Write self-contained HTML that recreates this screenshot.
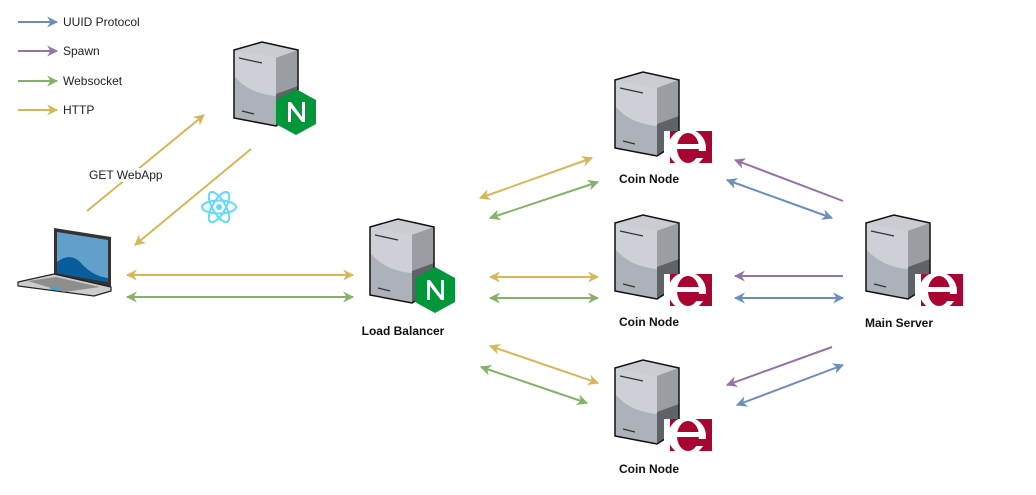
<!DOCTYPE html>
<html><head><meta charset="utf-8"><style>
html,body{margin:0;padding:0;background:#fff;}
svg{display:block;font-family:"Liberation Sans",sans-serif;}
</style></head><body>
<svg width="1036" height="495" viewBox="0 0 1036 495" xmlns="http://www.w3.org/2000/svg">
<defs>
<marker id="ab" viewBox="0 0 10 10" refX="9" refY="5" markerWidth="11" markerHeight="11" orient="auto-start-reverse" markerUnits="userSpaceOnUse"><path d="M0,0 L10,5 L0,10 L3,5 Z" fill="#6c8ebf"/></marker>
<marker id="ap" viewBox="0 0 10 10" refX="9" refY="5" markerWidth="11" markerHeight="11" orient="auto-start-reverse" markerUnits="userSpaceOnUse"><path d="M0,0 L10,5 L0,10 L3,5 Z" fill="#9673a6"/></marker>
<marker id="ag" viewBox="0 0 10 10" refX="9" refY="5" markerWidth="11" markerHeight="11" orient="auto-start-reverse" markerUnits="userSpaceOnUse"><path d="M0,0 L10,5 L0,10 L3,5 Z" fill="#82b366"/></marker>
<marker id="ay" viewBox="0 0 10 10" refX="9" refY="5" markerWidth="11" markerHeight="11" orient="auto-start-reverse" markerUnits="userSpaceOnUse"><path d="M0,0 L10,5 L0,10 L3,5 Z" fill="#d6b656"/></marker>
<clipPath id="ec"><rect x="0" y="0" width="48" height="32"/></clipPath>
<g id="srv">
<path d="M0,8 L28,0 L64,8 L42,16 Z" fill="#c9ccd1"/>
<path d="M0,8 L42,16 L42,84 L0,76 Z" fill="#adb2ba"/>
<path d="M0,8 L42,16 L42,54 Q18,52 4,38 L0,34 Z" fill="#cdd0d6"/>
<path d="M42,16 L64,8 L64,70 L42,84 Z" fill="#5f6368"/>
<path d="M42,16 L64,8 L64,44 L42,52 Z" fill="#9a9ea2"/>
<path d="M0,8 L28,0 L64,8 L64,70 L42,84 L0,76 Z" fill="none" stroke="#111" stroke-width="1.5"/>
<path d="M5,16 L28,21 M8,69 L20,72" stroke="#333" stroke-width="1.3"/>
</g>
<g id="ngx">
<path d="M20,0 L40,11 L40,35 L20,46 L0,35 L0,11 Z" fill="#009639"/>
<path d="M12,33 L12,13 L15,13 L26,28 L26,13 L29,13 L29,33 L26,33 L15,19 L15,33 Z" fill="#fff"/>
</g>
<g id="erl">
<rect x="0" y="0" width="48" height="32" fill="#a90533"/>
<g clip-path="url(#ec)">
<ellipse cx="23" cy="17" rx="19" ry="19" fill="#fff"/>
<ellipse cx="24" cy="17" rx="11" ry="15" fill="#a90533"/>
<rect x="10" y="13" width="30" height="5" fill="#fff"/>
<rect x="28" y="20" width="20" height="7" fill="#a90533"/>
<rect x="0" y="0" width="6" height="32" fill="#fff"/>
</g>
</g>
</defs>

<!-- legend -->
<g font-size="12" fill="#222">
<line x1="18" y1="22" x2="57" y2="22" stroke="#6c8ebf" stroke-width="2" marker-end="url(#ab)"/><text x="63" y="26">UUID Protocol</text>
<line x1="18" y1="51" x2="57" y2="51" stroke="#9673a6" stroke-width="2" marker-end="url(#ap)"/><text x="63" y="55">Spawn</text>
<line x1="18" y1="81" x2="57" y2="81" stroke="#82b366" stroke-width="2" marker-end="url(#ag)"/><text x="63" y="85">Websocket</text>
<line x1="18" y1="110" x2="57" y2="110" stroke="#d6b656" stroke-width="2" marker-end="url(#ay)"/><text x="63" y="114">HTTP</text>
</g>

<!-- servers -->
<use href="#srv" x="234" y="42"/><use href="#ngx" x="276" y="89"/>
<use href="#srv" x="370" y="219"/><use href="#ngx" x="415" y="267"/>
<use href="#srv" x="615" y="72"/><use href="#erl" x="664" y="131"/>
<use href="#srv" x="615" y="215"/><use href="#erl" x="664" y="274"/>
<use href="#srv" x="615" y="360"/><use href="#erl" x="664" y="419"/>
<use href="#srv" x="866" y="215"/><use href="#erl" x="915" y="274"/>

<!-- laptop -->
<path d="M54,228 L111,237 L111,287 L54,276 Z" fill="#333"/>
<path d="M57,232 L108,240 L108,282 L57,273 Z" fill="#62a0cc"/>
<path d="M57,232 L57,262 Q70,252 80,262 Q92,276 108,278 L108,282 L57,273 Z" fill="#0a5d9c"/>
<path d="M54,274 L111,287 L111,291 L94,296 L18,286 L18,282 Z" fill="#ccc" stroke="#222" stroke-width="1.2"/>
<path d="M28,281 L56,277 L100,287 L64,292 Z" fill="#8e8e8e"/>
<rect x="50" y="287" width="9" height="3" fill="#3aa3e0"/>

<!-- react -->
<g transform="translate(219,207)" fill="none" stroke="#61dafb" stroke-width="2">
<ellipse rx="17" ry="6.5"/><ellipse rx="17" ry="6.5" transform="rotate(60)"/><ellipse rx="17" ry="6.5" transform="rotate(120)"/>
<circle r="3" fill="#61dafb" stroke="none"/>
</g>

<!-- connectors -->
<g stroke-width="2" fill="none">
<line x1="87" y1="211" x2="204" y2="115" stroke="#d6b656" marker-end="url(#ay)"/>
<line x1="251" y1="149" x2="135" y2="245" stroke="#d6b656" marker-end="url(#ay)"/>
<line x1="127" y1="275" x2="353" y2="275" stroke="#d6b656" marker-start="url(#ay)" marker-end="url(#ay)"/>
<line x1="127" y1="297" x2="353" y2="297" stroke="#82b366" marker-start="url(#ag)" marker-end="url(#ag)"/>
<line x1="480" y1="198" x2="592" y2="158" stroke="#d6b656" marker-start="url(#ay)" marker-end="url(#ay)"/>
<line x1="490" y1="218" x2="598" y2="182" stroke="#82b366" marker-start="url(#ag)" marker-end="url(#ag)"/>
<line x1="490" y1="277" x2="598" y2="277" stroke="#d6b656" marker-start="url(#ay)" marker-end="url(#ay)"/>
<line x1="490" y1="298" x2="598" y2="298" stroke="#82b366" marker-start="url(#ag)" marker-end="url(#ag)"/>
<line x1="490" y1="346" x2="598" y2="383" stroke="#d6b656" marker-start="url(#ay)" marker-end="url(#ay)"/>
<line x1="481" y1="367" x2="587" y2="403" stroke="#82b366" marker-start="url(#ag)" marker-end="url(#ag)"/>
<line x1="843" y1="201" x2="735" y2="160" stroke="#9673a6" marker-end="url(#ap)"/>
<line x1="727" y1="180" x2="832" y2="218" stroke="#6c8ebf" marker-start="url(#ab)" marker-end="url(#ab)"/>
<line x1="843" y1="276" x2="735" y2="276" stroke="#9673a6" marker-end="url(#ap)"/>
<line x1="735" y1="298" x2="843" y2="298" stroke="#6c8ebf" marker-start="url(#ab)" marker-end="url(#ab)"/>
<line x1="832" y1="347" x2="727" y2="385" stroke="#9673a6" marker-end="url(#ap)"/>
<line x1="843" y1="365" x2="737" y2="405" stroke="#6c8ebf" marker-start="url(#ab)" marker-end="url(#ab)"/>
</g>

<rect x="88" y="168" width="76" height="14" fill="#fff"/>
<text x="89" y="179" font-size="12" fill="#222">GET WebApp</text>

<g font-size="12" font-weight="bold" fill="#111" text-anchor="middle">
<text x="403" y="335">Load Balancer</text>
<text x="649" y="183">Coin Node</text>
<text x="649" y="326">Coin Node</text>
<text x="649" y="473">Coin Node</text>
<text x="899" y="327">Main Server</text>
</g>
</svg>
</body></html>
